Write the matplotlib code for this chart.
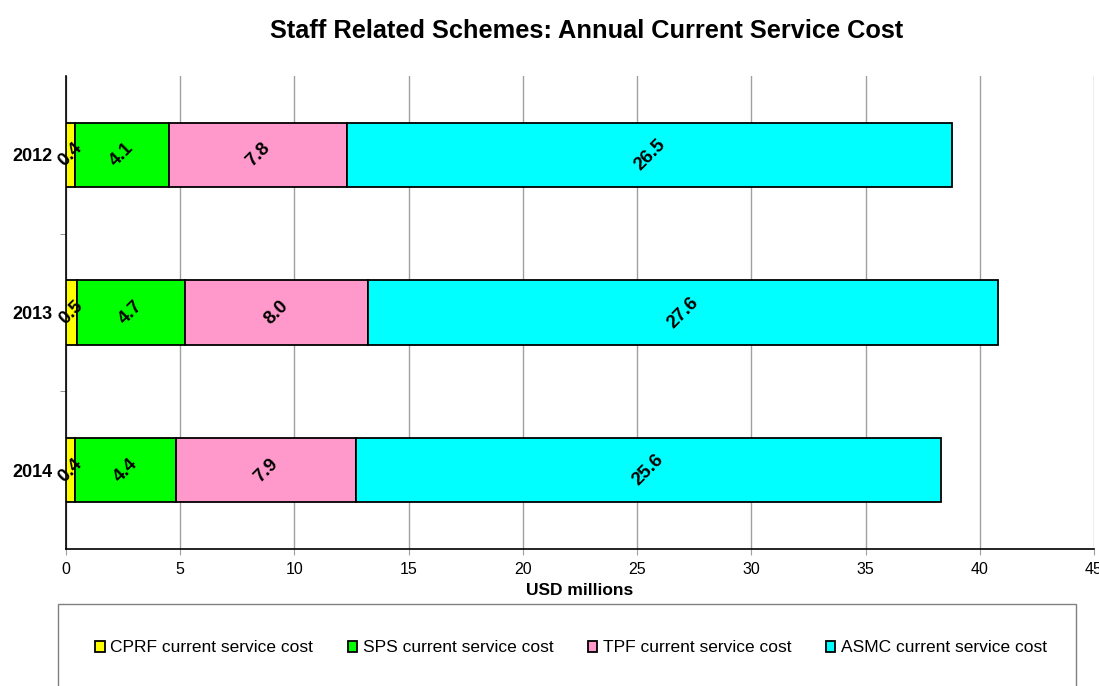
import matplotlib.pyplot as plt
from matplotlib.patches import Rectangle
import numpy as np

plt.rcParams['font.family'] = ['Liberation Sans', 'DejaVu Sans']

years = ['2012', '2013', '2014']
cprf = [0.4, 0.5, 0.4]
sps = [4.1, 4.7, 4.4]
tpf = [7.8, 8.0, 7.9]
asmc = [26.5, 27.6, 25.6]

series = [
    ('CPRF current service cost', cprf, '#FFFF00'),
    ('SPS current service cost', sps, '#00FF00'),
    ('TPF current service cost', tpf, '#FF99CC'),
    ('ASMC current service cost', asmc, '#00FFFF'),
]

fig = plt.figure(figsize=(10.99, 6.86), dpi=100)
ax = fig.add_axes([66 / 1099, 1 - 549 / 686, (1094 - 66) / 1099, (549 - 76) / 686])

ypos = np.arange(len(years))
left = np.zeros(len(years))
for name, vals, col in series:
    vals = np.array(vals)
    ax.barh(ypos, vals, left=left, height=0.41, color=col, edgecolor='black',
            linewidth=1.3, label=name, zorder=3)
    for y, l, v in zip(ypos, left, vals):
        ax.text(l + v / 2, y, '%.1f' % v, rotation=45, ha='center', va='center',
                fontsize=13.5, fontweight='bold', zorder=4)
    left = left + vals

ax.set_xlim(0, 45)
ax.set_ylim(2.5, -0.5)
ax.set_xticks(np.arange(0, 46, 5))
ax.set_yticks(ypos)
ax.set_yticklabels(years, fontweight='bold', fontsize=13)
ax.set_yticks([0.5, 1.5], minor=True)
ax.tick_params(axis='y', which='major', length=0, pad=10)
ax.tick_params(axis='y', which='minor', length=4, color='#808080')
ax.tick_params(axis='x', length=4, color='#a0a0a0', labelsize=11.5, pad=5)
ax.xaxis.grid(True, color='#a0a0a0', linewidth=1, zorder=0)
ax.spines['top'].set_visible(False)
ax.spines['right'].set_visible(False)
ax.spines['left'].set_linewidth(1.2)
ax.spines['bottom'].set_linewidth(1.2)
ax.set_xlabel('USD millions', fontweight='bold', fontsize=12.5, labelpad=5)

fig.suptitle('Staff Related Schemes: Annual Current Service Cost', x=587 / 1099,
             y=1 - 31 / 686, va='center', fontsize=18.3, fontweight='bold')

# legend frame
fig.patches.append(Rectangle((58 / 1099, -0.05), (1076 - 58) / 1099, 0.05 + (686 - 604) / 686,
                             transform=fig.transFigure, facecolor='white',
                             edgecolor='#808080', linewidth=1))
handles, labels = ax.get_legend_handles_labels()
fig.legend(handles, labels, loc='center', bbox_to_anchor=(571 / 1099, 1 - 648 / 686),
           ncol=4, frameon=False, fontsize=12.5, handlelength=0.55, handleheight=0.55,
           handletextpad=0.3, columnspacing=2.0)

fig.savefig('out.png', dpi=100)
